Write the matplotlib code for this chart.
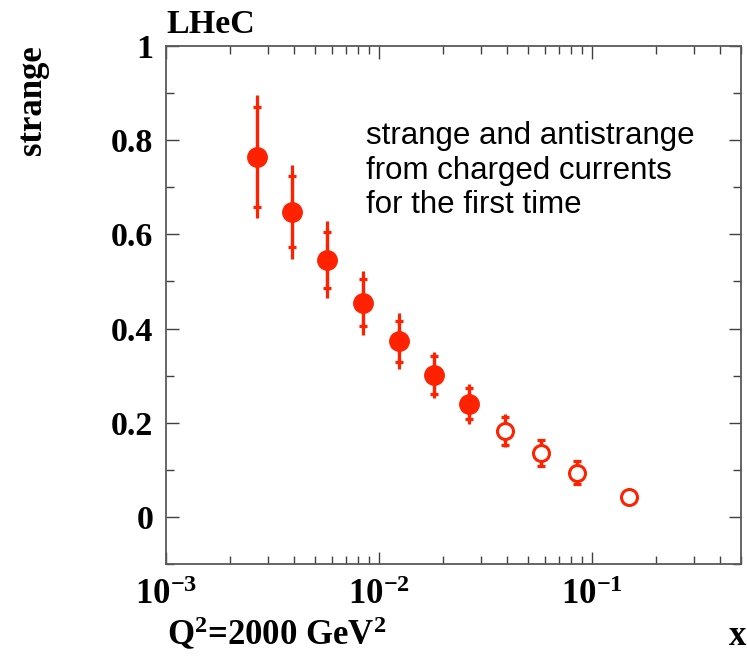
import numpy as np
import matplotlib
matplotlib.use("Agg")
import matplotlib.pyplot as plt
from matplotlib.ticker import MultipleLocator, LogLocator, FixedLocator, FixedFormatter, NullFormatter

plt.rcParams['font.family'] = ['Liberation Serif', 'DejaVu Serif']
plt.rcParams['font.weight'] = 'bold'
plt.rcParams['mathtext.fontset'] = 'custom'
plt.rcParams['mathtext.rm'] = 'Liberation Serif:bold'
plt.rcParams['mathtext.it'] = 'Liberation Serif:bold'
plt.rcParams['mathtext.bf'] = 'Liberation Serif:bold'

# data
x = [0.00267, 0.00389, 0.00572, 0.00844, 0.0124, 0.0182, 0.0265,
     0.0391, 0.0576, 0.0848, 0.1496]
strange = [0.765, 0.648, 0.546, 0.455, 0.373, 0.301, 0.240,
           0.183, 0.136, 0.094, 0.043]
err_inner = [0.106, 0.0755, 0.060, 0.050, 0.044, 0.040, 0.033,
             0.030, 0.027, 0.024, 0.010]
err_outer = [0.130, 0.100, 0.082, 0.068, 0.059, 0.049, 0.043,
             0.035, 0.028, 0.025, 0.010]
filled = [True] * 7 + [False] * 4

xticks = [1e-3, 1e-2, 1e-1]
xticklabels = ['10$^{-3}$', '10$^{-2}$', '10$^{-1}$']

red = '#ff2200'

fig = plt.figure(figsize=(7.47, 6.56), dpi=100)
ax = fig.add_axes([166/747, 92/656, 575/747, 518/656])

x = np.array(x)
strange = np.array(strange)
err_inner = np.array(err_inner)
err_outer = np.array(err_outer)
filled = np.array(filled)

# outer errors (no caps)
ax.errorbar(x, strange, yerr=err_outer, fmt='none', ecolor=red,
            elinewidth=2.3, capsize=0, zorder=2)
# inner errors with caps
ax.errorbar(x, strange, yerr=err_inner, fmt='none', ecolor=red,
            elinewidth=2.3, capsize=3.2, capthick=2.3, zorder=2)
ax.plot(x[filled], strange[filled], 'o', color=red, ms=14, mew=1,
        linestyle='none', zorder=3)
ax.plot(x[~filled], strange[~filled], 'o', mfc='white', mec=red, ms=11.5,
        mew=2.2, linestyle='none', zorder=3)

ax.set_xscale('log')
ax.set_xlim(1e-3, 0.5)
ax.set_ylim(-0.1, 1.0)

ax.xaxis.set_major_locator(FixedLocator(xticks))
ax.xaxis.set_major_formatter(FixedFormatter(xticklabels))
ax.xaxis.set_minor_locator(LogLocator(base=10, subs=np.arange(2, 10), numticks=20))
ax.xaxis.set_minor_formatter(NullFormatter())
ax.yaxis.set_major_locator(MultipleLocator(0.2))
ax.yaxis.set_minor_locator(MultipleLocator(0.1))
ax.set_yticks([0, 0.2, 0.4, 0.6, 0.8, 1.0])
ax.set_yticklabels(['0', '0.2', '0.4', '0.6', '0.8', '1'])

for s in ax.spines.values():
    s.set_color('0.35')
    s.set_linewidth(1.3)
ax.tick_params(which='both', direction='in', top=True, right=True,
               color='0.25', width=1.0)
ax.tick_params(which='major', length=9)
ax.tick_params(which='minor', length=5.5)
ax.tick_params(axis='y', labelsize=24.5, pad=9)
ax.tick_params(axis='x', labelsize=25, pad=11)

fig.text(166/747, 1 - 33/656, 'LHeC', fontsize=24.5, ha='left', va='baseline')
fig.text(32/747, 1 - 45/656, 'strange', fontsize=25, rotation=90,
         ha='center', va='top')
fig.text(167/747, 1 - 645/656, 'Q$^{2}$=2000 GeV$^{2}$', fontsize=25,
         ha='left', va='baseline')
fig.text(746/747, 1 - 645/656, 'x', fontsize=25, ha='right', va='baseline')

ax.text(0.348, 0.855, 'strange and antistrange\nfrom charged currents\nfor the first time',
        transform=ax.transAxes, fontsize=22.5, family='Liberation Sans',
        fontweight='normal', ha='left', va='top', linespacing=1.2)

fig.savefig('out.png', dpi=100)
